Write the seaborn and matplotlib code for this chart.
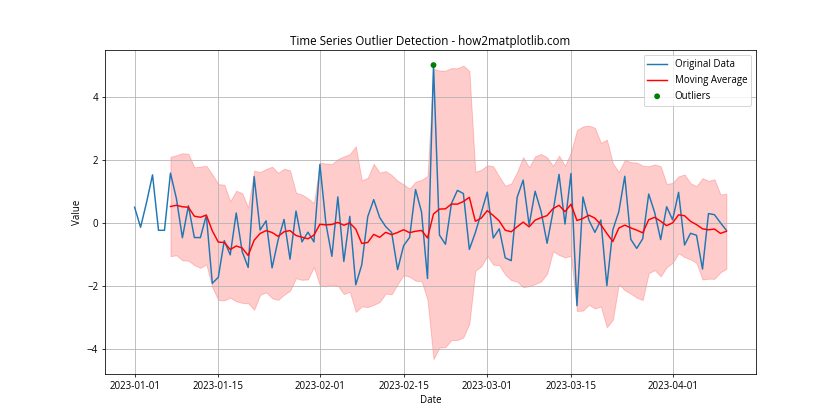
import numpy as np
import pandas as pd
import seaborn as sns
import matplotlib.pyplot as plt

# daily values, 2023-01-01 .. 2023-04-10
start_date = '2023-01-01'
values = [0.497, -0.138, 0.648, 1.523, -0.234, -0.234, 1.579, 0.767, -0.469, 0.543,
          -0.463, -0.466, 0.242, -1.913, -1.725, -0.562, -1.013, 0.314, -0.908, -1.412,
          1.466, -0.226, 0.068, -1.425, -0.544, 0.111, -1.151, 0.376, -0.601, -0.292,
          -0.602, 1.852, -0.013, -1.058, 0.823, -1.221, 0.209, -1.960, -1.328, 0.197,
          0.738, 0.171, -0.116, -0.301, -1.479, -0.720, -0.461, 1.057, 0.344, -1.763,
          5.000, -0.385, -0.677, 0.612, 1.031, 0.931, -0.839, -0.309, 0.331, 0.976,
          -0.479, -0.186, -1.106, -1.196, 0.813, 1.356, -0.072, 1.004, 0.362, -0.645,
          0.361, 1.538, -0.036, 1.565, -2.620, 0.822, 0.087, -0.299, 0.092, -1.988,
          -0.220, 0.357, 1.478, -0.518, -0.808, -0.502, 0.915, 0.329, -0.530, 0.513,
          0.097, 0.969, -0.702, -0.328, -0.392, -1.464, 0.296, 0.261, 0.005, -0.235]
window = 7

df = pd.DataFrame({'date': pd.date_range(start_date, periods=len(values), freq='D'),
                   'value': values})
df['ma'] = df['value'].rolling(window).mean()
df['sd'] = df['value'].rolling(window).std()
df['upper'] = df['ma'] + 2 * df['sd']
df['lower'] = df['ma'] - 2 * df['sd']
out = df[(df['value'] > df['upper']) | (df['value'] < df['lower'])]

plt.rcParams['font.family'] = ['Open Sans', 'DejaVu Sans']
plt.rcParams['font.size'] = 10

fig, ax = plt.subplots(figsize=(12, 6), dpi=70)
sns.lineplot(data=df, x='date', y='value', ax=ax, label='Original Data', color='C0')
sns.lineplot(data=df, x='date', y='ma', ax=ax, label='Moving Average', color='red')
ax.fill_between(df['date'], df['lower'], df['upper'], color='red', alpha=0.2)
sns.scatterplot(data=out, x='date', y='value', ax=ax, label='Outliers', color='green',
                s=36, edgecolor='none', zorder=5)

ax.set_title('Time Series Outlier Detection - how2matplotlib.com', fontsize=12)
ax.set_xlabel('Date')
ax.set_ylabel('Value')
ax.grid(True)
ax.legend(loc='upper right')

plt.savefig('out.png')
